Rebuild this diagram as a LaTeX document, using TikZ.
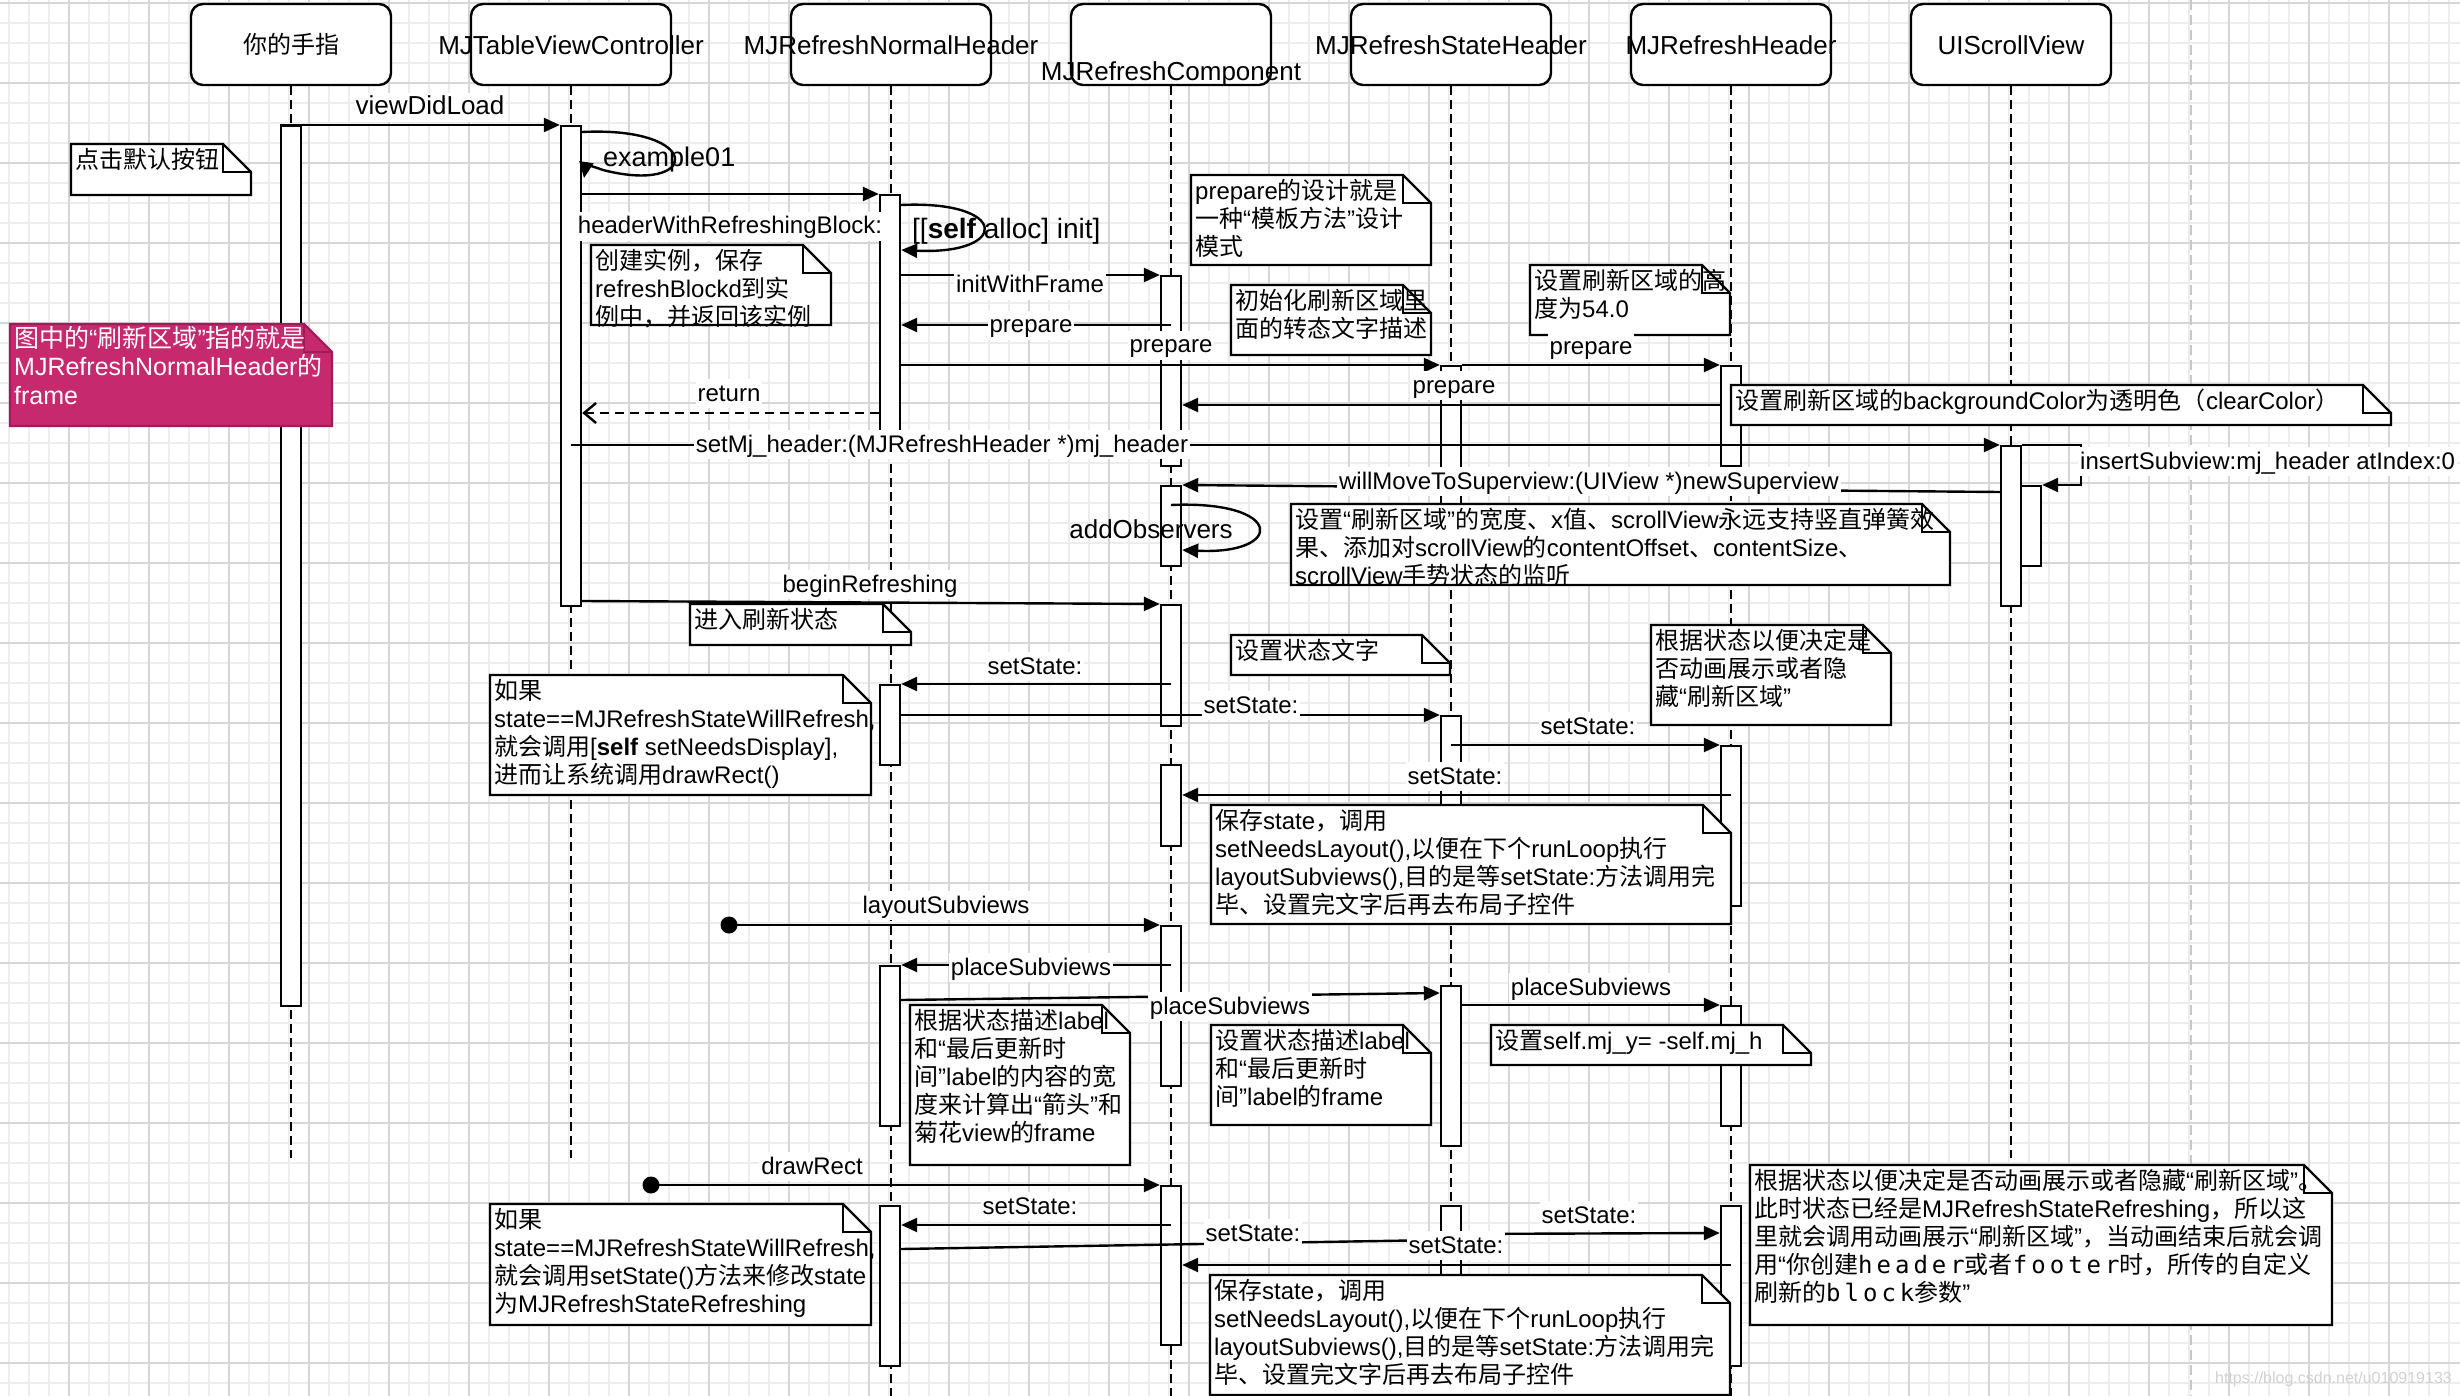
\documentclass[tikz,border=0pt]{standalone}
\usepackage{fontspec}
\setmainfont{Liberation Sans}
\setmonofont{DejaVu Sans Mono}
\newfontfamily\cjkfam{Noto Sans CJK SC}
\usetikzlibrary{arrows.meta}

\definecolor{gminorc}{RGB}{237,237,237}
\definecolor{gmajorc}{RGB}{214,214,214}
\definecolor{pbc}{RGB}{200,200,200}
\definecolor{magfill}{RGB}{198,41,110}
\definecolor{magdraw}{RGB}{160,28,86}

% automatic switching between Latin and CJK fonts
\XeTeXinterchartokenstate=1
\chardef\CJKcls=7
\newcount\cjkc
\def\setclassrange#1#2#3{\cjkc=#1\relax
  \loop\XeTeXcharclass\cjkc=#3\relax\advance\cjkc by 1\relax
  \ifnum\cjkc<#2\relax\repeat}
\setclassrange{"4E00}{"A000}{\CJKcls}
\setclassrange{"3000}{"3040}{\CJKcls}
\setclassrange{"FF00}{"FFF0}{\CJKcls}
\setclassrange{"0021}{"007F}{0}
\setclassrange{"2010}{"2030}{0}
\def\latfam{\rmfamily}
\XeTeXinterchartoks 0 \CJKcls = {\cjkfam}
\XeTeXinterchartoks 4095 \CJKcls = {\cjkfam}
\XeTeXinterchartoks \CJKcls 0 = {\latfam}
\XeTeXinterchartoks \CJKcls 4095 = {\latfam}

\newcommand\fst{\rule{0pt}{22pt}}
\newcommand\lblstrut{\rule[-5pt]{0pt}{25pt}}
\newcommand\ttw[1]{{\def\latfam{\ttfamily}\ttfamily #1}}
\newcommand\Note[6]{%
  \draw[notebg] (#2,#3) -- ({#4-28},#3) -- (#4,{#3+28}) -- (#4,#5) -- (#2,#5) -- cycle;
  \draw[notefold] ({#4-28},#3) -- ({#4-28},{#3+28}) -- (#4,{#3+28});
  \node[notetxt] (#1) at ({#2+4},{#3+2}) {\fst #6};}

\begin{document}
\begin{tikzpicture}[x=1pt,y=-1pt,
  head/.style={draw,line width=2.4pt,rounded corners=12pt,fill=white,minimum width=200pt,minimum height=81pt,inner sep=0pt},
  headtxt/.style={font=\fontsize{26}{31}\selectfont,inner sep=0pt,anchor=base},
  life/.style={line width=2pt,dash pattern=on 9pt off 5pt},
  act/.style={draw,fill=white,line width=2.4pt,minimum width=20pt,inner sep=0pt,anchor=north},
  msg/.style={line width=2.4pt,-{Triangle[length=16pt,width=14pt]}},
  ret/.style={line width=2.4pt,dash pattern=on 9pt off 6pt,-{Straight Barb[length=12pt,width=20pt]}},
  dot/.style={circle,fill=black,minimum size=17pt,inner sep=0pt},
  lbl/.style={fill=white,inner sep=2pt,font=\fontsize{24}{28}\selectfont,anchor=base,execute at begin node=\lblstrut},
  lblnf/.style={inner sep=0pt,font=\fontsize{27}{31}\selectfont,anchor=base},
  notebg/.style={draw,fill=white,line width=2.4pt},
  notefold/.style={draw,line width=2.4pt},
  notetxt/.style={anchor=north west,inner sep=0pt,align=left,font=\fontsize{24}{28}\selectfont},
  gminor/.style={draw=gminorc,line width=1.4pt},
  gmajor/.style={draw=gmajorc,line width=1.8pt},
  pagebrk/.style={draw=pbc,line width=2pt,dash pattern=on 10pt off 5pt},
  wmark/.style={font=\fontsize{16}{19}\selectfont,text=black!18,anchor=base east,inner sep=0pt}]

\useasboundingbox (0,0) rectangle (2460,1396);
\fill[white] (0,0) rectangle (2460,1396);

% grid
\foreach \g in {9,29,...,2449} \draw[gminor] (\g,0) -- (\g,1396);
\foreach \g in {3,23,...,1383} \draw[gminor] (0,\g) -- (2460,\g);
\foreach \g in {69,149,...,2429} \draw[gmajor] (\g,0) -- (\g,1396);
\foreach \g in {3,83,...,1363} \draw[gmajor] (0,\g) -- (2460,\g);
\draw[pagebrk] (2191,0) -- (2191,1396);

% lifeline heads
\node[head] (h1) at (291,44.5) {};
\node[head] (h2) at (571,44.5) {};
\node[head] (h3) at (891,44.5) {};
\node[head] (h4) at (1171,44.5) {};
\node[head] (h5) at (1451,44.5) {};
\node[head] (h6) at (1731,44.5) {};
\node[head] (h7) at (2011,44.5) {};

% lifelines
\draw[life] (h1.south) -- (h1.south |- 0,1158);
\draw[life] (h2.south) -- (h2.south |- 0,1158);
\draw[life] (h3.south) -- (h3.south |- 0,1396);
\draw[life] (h4.south) -- (h4.south |- 0,1396);
\draw[life] (h5.south) -- (h5.south |- 0,1396);
\draw[life] (h6.south) -- (h6.south |- 0,1396);
\draw[life] (h7.south) -- (h7.south |- 0,1158);

\node[headtxt,font=\fontsize{24}{29}\selectfont] (t1) at (291,54) {你的手指};
\node[headtxt] (t2) at (571,55) {MJTableViewController};
\node[headtxt] (t3) at (891,55) {MJRefreshNormalHeader};
\node[headtxt] (t4) at (1171,81) {MJRefreshComponent};
\node[headtxt] (t5) at (1451,55) {MJRefreshStateHeader};
\node[headtxt] (t6) at (1731,55) {MJRefreshHeader};
\node[headtxt] (t7) at (2011,55) {UIScrollView};

% activations
\node[act,minimum height=880pt] (aF) at (291,125) {};
\node[act,minimum height=480pt] (aT) at (571,125) {};
\node[act,minimum height=246pt] (aN1) at (890,194) {};
\node[act,minimum height=190pt] (aC1) at (1171,275) {};
\node[act,minimum height=80pt] (aC2) at (1171,485) {};
\node[act,minimum height=155pt] (aS1) at (1451,365) {};
\node[act,minimum height=100pt] (aH1) at (1731,365) {};
\node[act,minimum height=160pt] (aU1) at (2011,445) {};
\node[act,minimum height=80pt] (aU2) at (2031,485) {};
\node[act,minimum height=121pt] (aC3) at (1171,604) {};
\node[act,minimum height=80pt] (aN2) at (890,684) {};
\node[act,minimum height=135pt] (aS2) at (1451,715) {};
\node[act,minimum height=160pt] (aH2) at (1731,745) {};
\node[act,minimum height=81pt] (aC4) at (1171,764) {};
\node[act,minimum height=160pt] (aC5) at (1171,925) {};
\node[act,minimum height=160pt] (aN3) at (890,965) {};
\node[act,minimum height=160pt] (aS3) at (1451,985) {};
\node[act,minimum height=120pt] (aH3) at (1731,1005) {};
\node[act,minimum height=159pt] (aC6) at (1171,1185) {};
\node[act,minimum height=160pt] (aN4) at (890,1205) {};
\node[act,minimum height=125pt] (aS4) at (1451,1205) {};
\node[act,minimum height=160pt] (aH4) at (1731,1205) {};

% messages
\draw[msg] (aF.north west) -- (aT.north west);
\draw[msg] (aT.east |- 0,132) .. controls (705,126) and (700,195) .. (603,170) .. controls (592,166) and (586,165) .. (584,178);
\draw[msg] (aT.east |- aN1.north) -- (aN1.north west);
\draw[msg] (aN1.east |- 0,205) .. controls (1010,200) and (1010,255) .. (aN1.east |- 0,250);
\draw[msg] (aN1.east |- aC1.north) -- (aC1.north west);
\draw[msg] (aC1.center |- 0,325) -- (aN1.east |- 0,325);
\draw[msg] (aN1.east |- aS1.north) -- (aS1.north west);
\draw[msg] (aS1.north east) -- (aH1.north west);
\draw[msg] (aH1.west |- 0,405) -- (aC1.east |- 0,405);
\draw[ret] (aN1.west |- 0,413) -- (aT.east |- 0,413);
\draw[msg] (aT.center |- aU1.north) -- (aU1.north west);
\draw[msg] (aU1.north east) -- ++(59,0) |- (aU2.north east);
\draw[msg] (aU1.west |- 0,492) -- (aC2.north east);
\draw[msg] (aC2.center |- 0,505) .. controls (1285,500) and (1285,555) .. (aC2.east |- 0,550);
\draw[msg] (aT.east |- 0,601) -- (aC3.north west);
\draw[msg] (aC3.center |- aN2.north) -- (aN2.north east);
\draw[msg] (aN2.east |- aS2.north) -- (aS2.north west);
\draw[msg] (aS2.center |- aH2.north) -- (aH2.north west);
\draw[msg] (aH2.center |- 0,795) -- (aC4.east |- 0,795);
\node[dot] (d1) at (729,925) {};
\draw[msg] (d1.center) -- (aC5.north west);
\draw[msg] (aC5.center |- aN3.north) -- (aN3.north east);
\draw[msg] (aN3.east |- 0,1000) -- (aS3.west |- 0,993);
\draw[msg] (aS3.east |- aH3.north) -- (aH3.north west);
\node[dot] (d2) at (651,1185) {};
\draw[msg] (d2.center) -- (aC6.north west);
\draw[msg] (aC6.center |- 0,1225) -- (aN4.east |- 0,1225);
\draw[msg] (aN4.east |- 0,1249) -- (aS4.west |- 0,1240);
\draw[msg] (aS4.center |- 0,1234) -- (aH4.west |- 0,1233);
\draw[msg] (aH4.center |- 0,1265) -- (aC6.east |- 0,1265);

% notes
\Note{n1}{71}{144}{251}{195}{点击默认按钮}
\filldraw[fill=magfill,draw=magdraw,line width=2.4pt] (10,324) -- (304,324) -- (332,352) -- (332,426) -- (10,426) -- cycle;
\draw[draw=magdraw,line width=2.4pt] (304,324) -- (304,352) -- (332,352);
\node[notetxt,text=white,font=\fontsize{25}{28.5}\selectfont] (n2) at (14,325) {\fst 图中的“刷新区域”指的就是\\MJRefreshNormalHeader的\\frame};
\Note{n3}{591}{245}{831}{325}{创建实例，保存\\refreshBlockd到实\\例中，并返回该实例}
\Note{n4}{1191}{175}{1431}{265}{prepare的设计就是\\一种“模板方法”设计\\模式}
\Note{n5}{1231}{285}{1431}{355}{初始化刷新区域里\\面的转态文字描述}
\Note{n6}{1530}{265}{1730}{335}{设置刷新区域的高\\度为54.0}
\Note{n7}{1731}{385}{2391}{425}{设置刷新区域的backgroundColor为透明色（clearColor）}
\Note{n8}{1291}{504}{1950}{585}{设置“刷新区域”的宽度、x值、scrollView永远支持竖直弹簧效\\果、添加对scrollView的contentOffset、contentSize、\\scrollView手势状态的监听}
\Note{n9}{690}{604}{911}{645}{进入刷新状态}
\Note{n10}{490}{675}{871}{795}{如果\\state==MJRefreshStateWillRefresh,\\就会调用[\textbf{self} setNeedsDisplay],\\进而让系统调用drawRect()}
\Note{n11}{1231}{635}{1450}{675}{设置状态文字}
\Note{n12}{1651}{625}{1891}{725}{根据状态以便决定是\\否动画展示或者隐\\藏“刷新区域”}
\Note{n13}{1211}{805}{1731}{924}{保存state，调用\\setNeedsLayout(),以便在下个runLoop执行\\layoutSubviews(),目的是等setState:方法调用完\\毕、设置完文字后再去布局子控件}
\Note{n14}{910}{1005}{1130}{1165}{根据状态描述label\\和“最后更新时\\间”label的内容的宽\\度来计算出“箭头”和\\菊花view的frame}
\Note{n15}{1211}{1025}{1431}{1125}{设置状态描述label\\和“最后更新时\\间”label的frame}
\Note{n16}{1491}{1025}{1811}{1065}{设置self.mj\_y= -self.mj\_h}
\Note{n17}{490}{1204}{871}{1325}{如果\\state==MJRefreshStateWillRefresh,\\就会调用setState()方法来修改state\\为MJRefreshStateRefreshing}
\Note{n18}{1210}{1275}{1730}{1395}{保存state，调用\\setNeedsLayout(),以便在下个runLoop执行\\layoutSubviews(),目的是等setState:方法调用完\\毕、设置完文字后再去布局子控件}
\Note{n19}{1750}{1165}{2332}{1325}{根据状态以便决定是否动画展示或者隐藏“刷新区域”。\\此时状态已经是MJRefreshStateRefreshing，所以这\\里就会调用动画展示“刷新区域”，当动画结束后就会调\\用“你创建\ttw{h\kern4pt e\kern4pt a\kern4pt d\kern4pt e\kern4pt r}或者\ttw{f\kern4pt o\kern4pt o\kern4pt t\kern4pt e\kern4pt r}时，所传的自定义\\刷新的\ttw{b\kern4pt l\kern4pt o\kern4pt c\kern4pt k}参数”}

% message labels
\node[lbl,font=\fontsize{26}{30}\selectfont] (lb1) at (430,115) {viewDidLoad};
\node[lblnf,anchor=base west] (lb2) at (603,167) {example01};
\node[lbl] (lb3) at (730,234) {headerWithRefreshingBlock:};
\node[lblnf,anchor=base west,font=\fontsize{28}{32}\selectfont] (lb4) at (912,239) {[[\textbf{self} alloc] init]};
\node[lbl] (lb5) at (1030,293) {initWithFrame};
\node[lbl] (lb6) at (1031,333) {prepare};
\node[lbl] (lb7) at (1171,353) {prepare};
\node[lbl] (lb8) at (1591,355) {prepare};
\node[lbl] (lb9) at (1454,393) {prepare};
\node[lbl] (lb10) at (729,401) {return};
\node[lbl] (lb11) at (942,452) {setMj\_header:(MJRefreshHeader *)mj\_header};
\node[lbl,anchor=base west] (lb12) at (2078,469) {insertSubview:mj\_header atIndex:0};
\node[lbl] (lb13) at (1589,489) {willMoveToSuperview:(UIView *)newSuperview};
\node[lblnf,font=\fontsize{26}{30}\selectfont] (lb14) at (1151,538) {addObservers};
\node[lbl] (lb15) at (870,592) {beginRefreshing};
\node[lbl] (lb16) at (1035,674) {setState:};
\node[lbl] (lb17) at (1251,713) {setState:};
\node[lbl] (lb18) at (1588,734) {setState:};
\node[lbl] (lb19) at (1455,784) {setState:};
\node[lbl] (lb20) at (946,913) {layoutSubviews};
\node[lbl] (lb21) at (1031,975) {placeSubviews};
\node[lbl] (lb22) at (1230,1014) {placeSubviews};
\node[lbl] (lb23) at (1591,995) {placeSubviews};
\node[lbl] (lb24) at (812,1174) {drawRect};
\node[lbl] (lb25) at (1030,1214) {setState:};
\node[lbl] (lb26) at (1253,1241) {setState:};
\node[lbl] (lb27) at (1589,1223) {setState:};
\node[lbl] (lb28) at (1456,1253) {setState:};

\node[wmark] (wm) at (2452,1383) {https://blog.csdn.net/u010919133};
\end{tikzpicture}
\end{document}
